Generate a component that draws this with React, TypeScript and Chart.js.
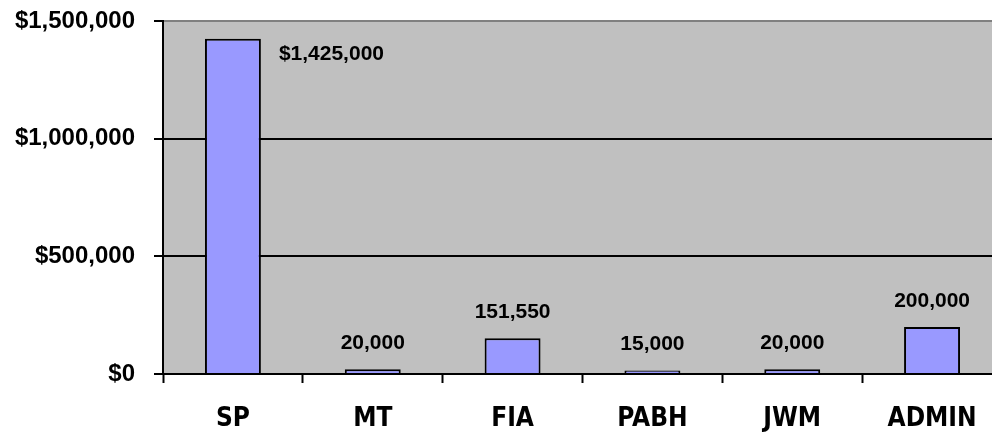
import React, { useEffect, useRef } from "react";
import { Chart, registerables } from "chart.js";

Chart.register(...registerables);

const categories = ["SP", "MT", "FIA", "PABH", "JWM", "ADMIN"];
const values = [1425000, 20000, 151550, 15000, 20000, 200000];
const valueLabels = ["$1,425,000", "20,000", "151,550", "15,000", "20,000", "200,000"];
const yTicks = [0, 500000, 1000000, 1500000];

const plotBg = {
  id: "plotBg",
  beforeDraw(chart: any) {
    const { ctx, chartArea } = chart;
    ctx.save();
    ctx.fillStyle = "#c0c0c0";
    ctx.fillRect(chartArea.left, chartArea.top, chartArea.right - chartArea.left, chartArea.bottom - chartArea.top);
    ctx.restore();
  },
};

const valueLabelPlugin = {
  id: "valueLabels",
  afterDatasetsDraw(chart: any) {
    const { ctx } = chart;
    const meta = chart.getDatasetMeta(0);
    ctx.save();
    ctx.fillStyle = "#000";
    ctx.font = "bold 21px 'Liberation Sans', Arial, sans-serif";
    ctx.textBaseline = "middle";
    meta.data.forEach((el: any, i: number) => {
      const p = el.getProps(["x", "y", "width"], true);
      if (i === 0) {
        ctx.textAlign = "left";
        ctx.fillText(valueLabels[i], p.x + p.width / 2 + 18, p.y + 16);
      } else {
        ctx.textAlign = "center";
        ctx.fillText(valueLabels[i], p.x, p.y - 26);
      }
    });
    ctx.restore();
  },
};

export default function App() {
  const ref = useRef<HTMLCanvasElement>(null);
  useEffect(() => {
    if (!ref.current) return;
    const chart = new Chart(ref.current, {
      type: "bar",
      data: {
        labels: categories,
        datasets: [
          {
            data: values,
            backgroundColor: "#9999ff",
            borderColor: "#000000",
            borderWidth: 2,
            barPercentage: 0.4,
            categoryPercentage: 1,
          },
        ],
      },
      options: {
        animation: false,
        responsive: false,
        maintainAspectRatio: false,
        layout: { padding: { top: 21, right: 8, left: 0, bottom: 0 } },
        plugins: { legend: { display: false }, tooltip: { enabled: false } },
        scales: {
          x: {
            grid: {
              offset: true,
              drawOnChartArea: false,
              drawTicks: true,
              tickLength: 9,
              tickColor: "#000",
              tickWidth: 2,
            },
            border: { color: "#000", width: 2 },
            ticks: {
              color: "#000",
              padding: 21,
              maxRotation: 0,
              font: { family: "'Liberation Sans Narrow', 'DejaVu Sans Condensed', sans-serif", size: 26, weight: "bold" },
            },
            afterFit(scale: any) {
              scale.height = 62;
              scale.paddingLeft = 0;
              scale.paddingRight = 0;
            },
          },
          y: {
            min: 0,
            max: 1500000,
            afterBuildTicks(scale: any) {
              scale.ticks = yTicks.map((v) => ({ value: v }));
            },
            grid: {
              color: (c: any) => (c.tick && c.tick.value === 1500000 ? "#808080" : "#000"),
              lineWidth: 2,
              tickLength: 9,
              tickColor: "#000",
              tickWidth: 2,
            },
            border: { color: "#000", width: 2 },
            ticks: {
              color: "#000",
              padding: 19,
              font: { family: "'Liberation Sans', Arial, sans-serif", size: 24, weight: "bold" },
              callback: (v: any) => "$" + Number(v).toLocaleString("en-US"),
            },
            afterFit(scale: any) {
              scale.width = 163;
              scale.paddingTop = 0;
              scale.paddingBottom = 0;
            },
          },
        },
      },
      plugins: [plotBg, valueLabelPlugin],
    });
    return () => chart.destroy();
  }, []);
  return (
    <div style={{ position: "fixed", left: 0, top: 0, width: 992, height: 436, overflow: "hidden", background: "#fff" }}>
      <canvas ref={ref} width={1010} height={436} style={{ display: "block" }} />
    </div>
  );
}
